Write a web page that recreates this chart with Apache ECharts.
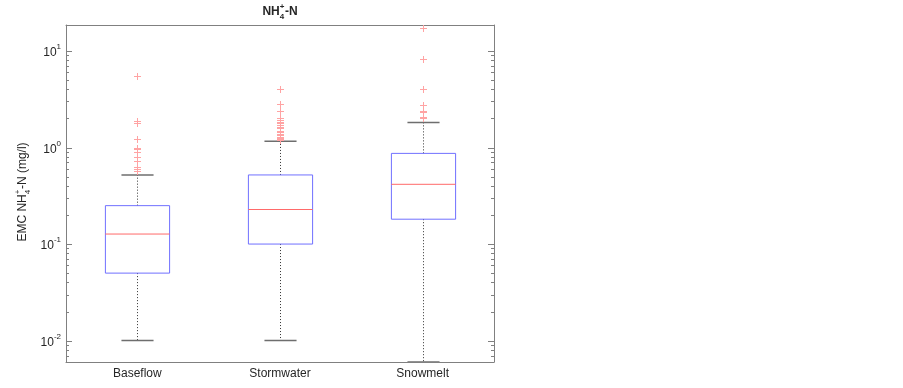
<!DOCTYPE html>
<html>
<head>
<meta charset="utf-8">
<script src="https://cdn.jsdelivr.net/npm/echarts@6/dist/echarts.min.js"></script>
<style>
  html, body { margin: 0; padding: 0; background: #fff; }
  #chart { width: 903px; height: 388px; }
</style>
</head>
<body>
<div id="chart"></div>
<script>
// Data (mg/l)
const categories = ['Baseflow', 'Stormwater', 'Snowmelt'];
// [lower whisker, q1, median, q3, upper whisker]
const boxBaseflow = [0.01, 0.05, 0.127, 0.25, 0.52];
const boxStormwater = [0.01, 0.10, 0.228, 0.52, 1.16];
const boxSnowmelt = [0.006, 0.181, 0.416, 0.87, 1.82];
const outliersBaseflow = [5.53, 1.90, 1.81, 1.23, 1.0, 0.97, 0.89, 0.79, 0.73, 0.63, 0.60, 0.57];
const outliersStormwater = [4.03, 2.82, 2.41, 2.02, 1.93, 1.85, 1.78, 1.73, 1.65, 1.58, 1.48, 1.44, 1.38, 1.34, 1.30, 1.26, 1.23, 1.20];
const outliersSnowmelt = [17.4, 8.2, 4.03, 2.77, 2.37, 2.31, 2.09, 2.0];
const yMin = 0.006;
const yMax = 18.6;

const FONT = '"Liberation Sans", Arial, Helvetica, sans-serif';
const axisGray = '#808080';
const textColor = '#262626';

const boxData = [boxBaseflow, boxStormwater, boxSnowmelt].map((s, i) => [i].concat(s));
const outlierData = [];
[outliersBaseflow, outliersStormwater, outliersSnowmelt].forEach((arr, i) => {
  arr.forEach(v => outlierData.push([i, v]));
});
// minor log ticks 2..9 x 10^k inside the range
const minorTicks = [];
for (let k = -3; k <= 1; k++) {
  for (let m = 2; m <= 9; m++) {
    const v = m * Math.pow(10, k);
    if (v > yMin && v < yMax) minorTicks.push([0, v]);
  }
}
const majorTicks = [[0, 0.01], [0, 0.1], [0, 1], [0, 10]];

// text measuring for the sub/superscript labels
const mctx = document.createElement('canvas').getContext('2d');
const tw = (t, font) => { mctx.font = font; return mctx.measureText(t).width; };

// builds pieces like "NH" + (sup "+", sub "4") + "-N" as graphic texts
function chemLabel(parts, size, weight) {
  const main = weight + ' ' + size + 'px ' + FONT;
  const small = weight + ' ' + Math.round(size * 0.7) + 'px ' + FONT;
  let x = 0;
  const children = [];
  parts.forEach(p => {
    if (typeof p === 'string') {
      children.push({ type: 'text', x: x, y: 0, style: { text: p, font: main, fill: textColor, verticalAlign: 'middle' } });
      x += tw(p, main);
    } else {
      children.push({ type: 'text', x: x, y: -size * 0.42, style: { text: p.sup, font: small, fill: textColor, verticalAlign: 'middle' } });
      children.push({ type: 'text', x: x, y: size * 0.42, style: { text: p.sub, font: small, fill: textColor, verticalAlign: 'middle' } });
      x += Math.max(tw(p.sup, small), tw(p.sub, small)) + 0.5;
    }
  });
  children.forEach(c => { c.x -= x / 2; });
  return children;
}

const chart = echarts.init(document.getElementById('chart'), null, { renderer: 'canvas' });

const tickStyle = { inside: true, length: 5, lineStyle: { color: axisGray, width: 1 } };
const lineStyle = { show: true, lineStyle: { color: axisGray, width: 1 } };

// tick marks on both y sides (len px long)
function sideTicks(len) {
  return (params, api) => {
    const cs = params.coordSys;
    const y = Math.round(api.coord([0, api.value(1)])[1]) + 0.5;
    const st = { stroke: axisGray, lineWidth: 1 };
    return { type: 'group', children: [
      { type: 'line', shape: { x1: cs.x, y1: y, x2: cs.x + len, y2: y }, style: st },
      { type: 'line', shape: { x1: cs.x + cs.width - len, y1: y, x2: cs.x + cs.width, y2: y }, style: st }
    ] };
  };
}

const option = {
  animation: false,
  backgroundColor: '#fff',
  grid: { left: 66, right: 409, top: 25, bottom: 26, containLabel: false },
  xAxis: [
    {
      type: 'category', data: categories, position: 'bottom',
      axisLine: lineStyle,
      axisTick: Object.assign({ alignWithLabel: true }, tickStyle),
      axisLabel: { color: textColor, fontSize: 12, fontFamily: FONT, margin: 6 },
      splitLine: { show: false }
    },
    {
      type: 'category', data: categories, position: 'top',
      axisLine: lineStyle,
      axisTick: Object.assign({ alignWithLabel: true }, tickStyle),
      axisLabel: { show: false },
      splitLine: { show: false }
    }
  ],
  yAxis: [
    {
      type: 'log', logBase: 10, min: yMin, max: yMax, position: 'left',
      axisLine: lineStyle, axisTick: { show: false },
      splitLine: { show: false },
      axisLabel: {
        showMinLabel: false, showMaxLabel: false, margin: 5,
        formatter: v => '{b|10}{s|' + Math.round(Math.log10(v)) + '}',
        rich: {
          b: { fontSize: 12, fontFamily: FONT, color: textColor, lineHeight: 16, verticalAlign: 'bottom', padding: [4, 0, 0, 0] },
          s: { fontSize: 8, fontFamily: FONT, color: textColor, lineHeight: 16, verticalAlign: 'top' }
        }
      }
    },
    {
      type: 'log', logBase: 10, min: yMin, max: yMax, position: 'right',
      axisLine: lineStyle, axisTick: { show: false },
      splitLine: { show: false }, axisLabel: { show: false }
    }
  ],
  graphic: [
    { type: 'group', x: 280, y: 12, children: chemLabel(['NH', { sup: '+', sub: '4' }, '-N'], 12, 'bold') },
    { type: 'group', x: 23, y: 192, rotation: Math.PI / 2,
      children: chemLabel(['EMC NH', { sup: '+', sub: '4' }, '-N (mg/l)'], 12, 'normal') }
  ],
  series: [
    {
      type: 'custom', name: 'minor', data: minorTicks, silent: true,
      encode: { x: 0, y: 1 }, renderItem: sideTicks(3)
    },
    {
      type: 'custom', name: 'major', data: majorTicks, silent: true,
      encode: { x: 0, y: 1 }, renderItem: sideTicks(6)
    },
    {
      type: 'custom', name: 'box', data: boxData, clip: true,
      encode: { x: 0, y: [1, 2, 3, 4, 5] },
      renderItem: (params, api) => {
        const i = api.value(0);
        const lo = api.coord([i, api.value(1)]);
        const q1 = api.coord([i, api.value(2)]);
        const med = api.coord([i, api.value(3)]);
        const q3 = api.coord([i, api.value(4)]);
        const hi = api.coord([i, api.value(5)]);
        const bw = params.coordSys.width / categories.length * 0.45;
        const cx = Math.round(lo[0]) + 0.5;
        const dot = { stroke: '#333', lineWidth: 1, lineDash: [1, 2] };
        const cap = { stroke: '#6e6e6e', lineWidth: 1.5 };
        return { type: 'group', children: [
          { type: 'line', shape: { x1: cx, y1: q3[1], x2: cx, y2: hi[1] }, style: dot },
          { type: 'line', shape: { x1: cx, y1: q1[1], x2: cx, y2: lo[1] }, style: dot },
          { type: 'line', shape: { x1: cx - bw / 4, y1: hi[1], x2: cx + bw / 4, y2: hi[1] }, style: cap },
          { type: 'line', shape: { x1: cx - bw / 4, y1: lo[1], x2: cx + bw / 4, y2: lo[1] }, style: cap },
          { type: 'rect', shape: { x: cx - bw / 2, y: q3[1], width: bw, height: q1[1] - q3[1] },
            style: { fill: 'none', stroke: '#7070ff', lineWidth: 1 } },
          { type: 'line', shape: { x1: cx - bw / 2, y1: med[1], x2: cx + bw / 2, y2: med[1] },
            style: { stroke: '#ff6a6a', lineWidth: 1 } }
        ] };
      }
    },
    {
      type: 'custom', name: 'outliers', data: outlierData, clip: true,
      encode: { x: 0, y: 1 },
      renderItem: (params, api) => {
        const p = api.coord([api.value(0), api.value(1)]);
        const x = Math.round(p[0]) + 0.5, y = Math.round(p[1]) + 0.5, h = 3.5;
        const st = { stroke: '#ffa3a3', lineWidth: 1 };
        return { type: 'group', children: [
          { type: 'line', shape: { x1: x - h, y1: y, x2: x + h, y2: y }, style: st },
          { type: 'line', shape: { x1: x, y1: y - h, x2: x, y2: y + h }, style: st }
        ] };
      }
    }
  ]
};

chart.setOption(option);
</script>
</body>
</html>
